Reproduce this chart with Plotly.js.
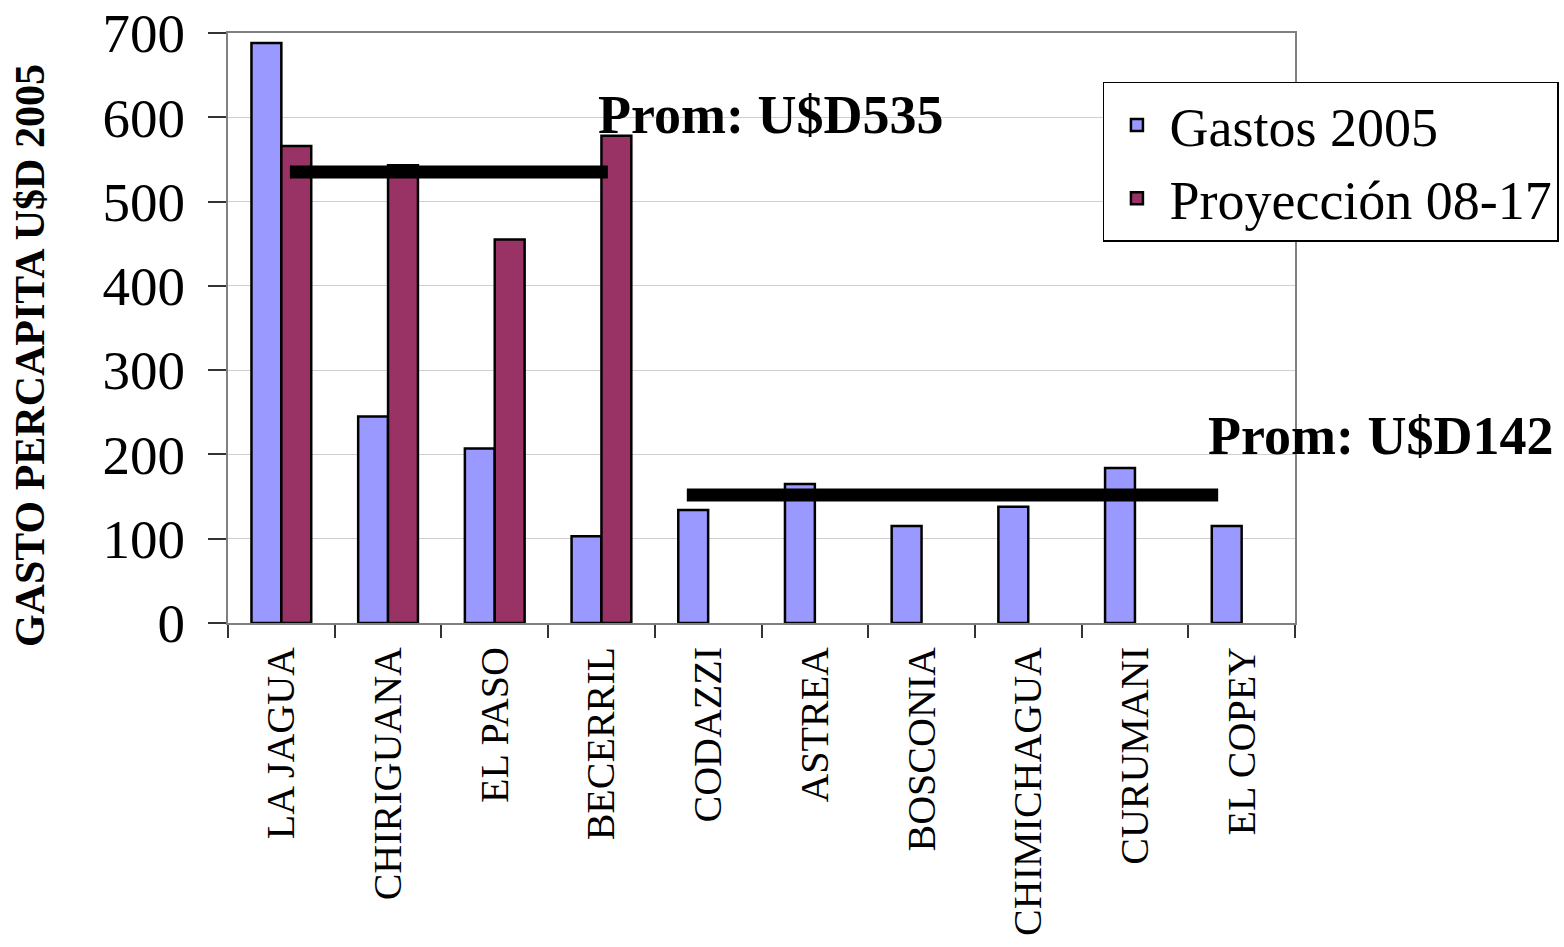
<!DOCTYPE html>
<html>
<head>
<meta charset="utf-8">
<script src="https://cdn.plot.ly/plotly-3.0.1.min.js"></script>
<style>html,body{margin:0;padding:0;background:#fff;}#chart{width:1564px;height:947px;}</style>
</head>
<body>
<div id="chart"></div>
<script>
// Data
const categories = ['LA JAGUA','CHIRIGUANA','EL PASO','BECERRIL','CODAZZI','ASTREA','BOSCONIA','CHIMICHAGUA','CURUMANI','EL COPEY'];
const gastos2005 = [688, 245, 207, 103, 134, 165, 115, 138, 184, 115];
const proyeccion0817 = [566, 543, 455, 578, null, null, null, null, null, null];
const seriesNames = ['Gastos 2005', 'Proyección 08-17'];
const promLabels = ['Prom: U$D535', 'Prom: U$D142'];
const promLevels = [535, 152];
const yTicks = [0, 100, 200, 300, 400, 500, 600, 700];
const yTitle = 'GASTO PERCAPITA U$D 2005';

const FONT = 'Liberation Serif, Times New Roman, serif';

const traces = [
  {type:'bar', name:seriesNames[0], x:categories, y:gastos2005,
   marker:{color:'#9999FF', line:{color:'#000000', width:2.5}}},
  {type:'bar', name:seriesNames[1], x:categories, y:proyeccion0817,
   marker:{color:'#993366', line:{color:'#000000', width:2.5}}}
];

// average line extents (category index units)
const promSpans = [[0.08, 3.06], [3.80, 8.78]];
const shapes = promLevels.map((lv, i) => ({
  type:'line', xref:'x', yref:'y', x0:promSpans[i][0], x1:promSpans[i][1], y0:lv, y1:lv,
  line:{color:'#000000', width:13}
}));

// label positions: x in paper units, y in data units
const annPos = [[0.508, 603], [1.0797, 222]];
const annotations = promLabels.map((t, i) => ({
  xref:'paper', yref:'y', x:annPos[i][0], y:annPos[i][1], text:'<b>'+t+'</b>', showarrow:false,
  font:{family:FONT, size:54, color:'#000'}, xanchor:'center', yanchor:'middle'
}));
annotations.push({
  xref:'paper', yref:'paper', x:-0.1856, y:0.454, text:'<b>'+yTitle+'</b>', showarrow:false,
  textangle:-90, font:{family:FONT, size:42, color:'#000'}, xanchor:'center', yanchor:'middle'
});

const layout = {
  width:1564, height:947,
  margin:{l:228, r:269, t:33, b:324, autoexpand:false},
  paper_bgcolor:'#ffffff', plot_bgcolor:'#ffffff',
  barmode:'group', bargap:0.44, bargroupgap:0,
  font:{family:FONT, color:'#000'},
  xaxis:{
    type:'category', range:[-0.5, 9.5], autorange:false, tickangle:-90, tickson:'boundaries', ticks:'outside', ticklen:13, tickwidth:1.5,
    tickcolor:'#333', showline:true, linecolor:'#808080', linewidth:2, mirror:true, ticklabelstandoff:6,
    tickfont:{family:FONT, size:40, color:'#000'}, showgrid:false, automargin:false
  },
  yaxis:{
    range:[0,700], autorange:false, tickvals:yTicks, ticks:'outside', ticklen:18, tickwidth:1.5, tickcolor:'#333',
    showline:true, linecolor:'#808080', linewidth:2, mirror:true, ticklabelstandoff:12,
    showgrid:true, gridcolor:'#d0d0d0', gridwidth:1, zeroline:false, automargin:false,
    tickfont:{family:FONT, size:55, color:'#000'}
  },
  legend:{
    x:0.82, y:0.917, xanchor:'left', yanchor:'top', bgcolor:'#ffffff', itemwidth:55,
    bordercolor:'#000000', borderwidth:1.5, font:{family:FONT, size:54, color:'#000'}
  },
  shapes:shapes,
  annotations:annotations,
  showlegend:true
};

Plotly.newPlot('chart', traces, layout, {displayModeBar:false, responsive:false});
</script>
</body>
</html>
